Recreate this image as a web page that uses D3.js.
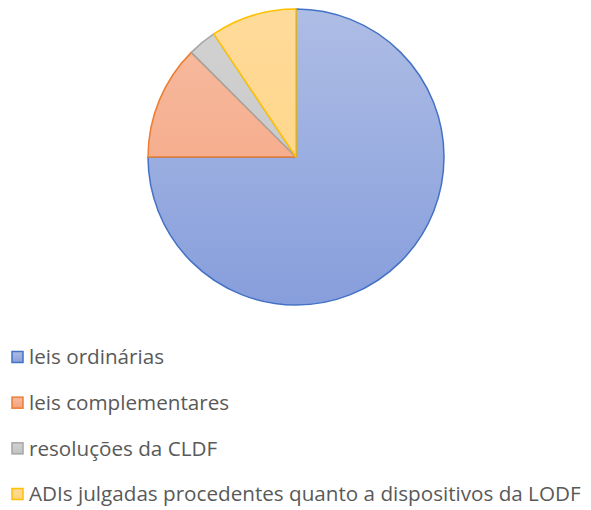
<!DOCTYPE html>
<html>
<head>
<meta charset="utf-8">
<script src="https://cdn.jsdelivr.net/npm/d3@7"></script>
<style>
  body { margin: 0; background: #fff; }
  svg { display: block; }
</style>
</head>
<body>
<div id="chart"></div>
<script>
// Chart data
const categories = ['leis ordinárias', 'leis complementares', 'resoluções da CLDF', 'ADIs julgadas procedentes quanto a dispositivos da LODF'];
const values = [24, 4, 1, 3];
const strokeColors = ['#4472c4', '#ed7d31', '#a5a5a5', '#ffc000'];
const topColors = ['#aebde5', '#f7bca2', '#d2d2d2', '#ffdb9a'];
const bottomColors = ['#879edc', '#f4a17b', '#c3c3c3', '#ffd37e'];

const width = 591;
const height = 510;
const cx = 296, cy = 157, radius = 148;

const svg = d3.select('#chart')
    .append('svg')
    .attr('width', width)
    .attr('height', height);

// Gradients, one per slice, spanning the pie's bounding box
const defs = svg.append('defs');
categories.forEach((c, i) => {
    const grad = defs.append('linearGradient')
        .attr('id', 'grad' + i)
        .attr('gradientUnits', 'userSpaceOnUse')
        .attr('x1', 0).attr('y1', cy - radius)
        .attr('x2', 0).attr('y2', cy + radius);
    grad.append('stop').attr('offset', '0%').attr('stop-color', topColors[i]);
    grad.append('stop').attr('offset', '100%').attr('stop-color', bottomColors[i]);
});

const pie = d3.pie().sort(null).value(d => d);
const arc = d3.arc().innerRadius(0).outerRadius(radius);

const g = svg.append('g').attr('transform', `translate(${cx},${cy})`);

// Gradient defined in absolute coords, so shift it into the group's space
defs.selectAll('linearGradient')
    .attr('gradientTransform', `translate(0,${-cy})`);

g.selectAll('path')
    .data(pie(values))
    .enter()
    .append('path')
    .attr('d', arc)
    .attr('fill', (d, i) => `url(#grad${i})`)
    .attr('stroke', (d, i) => strokeColors[i])
    .attr('stroke-width', 1.5)
    .attr('stroke-linejoin', 'round');

// Legend
const legendY = d3.scalePoint()
    .domain(categories)
    .range([357, 494]);

const legend = svg.append('g')
    .selectAll('g')
    .data(categories)
    .enter()
    .append('g')
    .attr('transform', d => `translate(0,${legendY(d)})`);

legend.append('rect')
    .attr('x', 12)
    .attr('y', -5.5)
    .attr('width', 11)
    .attr('height', 11)
    .attr('fill', (d, i) => `url(#lgrad${i})`)
    .attr('stroke', (d, i) => strokeColors[i])
    .attr('stroke-width', 1.5);

categories.forEach((c, i) => {
    const grad = defs.append('linearGradient')
        .attr('id', 'lgrad' + i)
        .attr('x1', 0).attr('y1', 0).attr('x2', 0).attr('y2', 1);
    grad.append('stop').attr('offset', '0%').attr('stop-color', topColors[i]);
    grad.append('stop').attr('offset', '100%').attr('stop-color', bottomColors[i]);
});

const labels = legend.append('text')
    .attr('x', 29)
    .attr('y', 0)
    .attr('dy', '0.35em')
    .attr('fill', '#595959')
    .style('font-family', '"Open Sans", "Noto Sans", sans-serif')
    .style('font-size', '18px')
    .text(d => d);

// Scale font so the longest label matches the original width
const longest = d3.max(labels.nodes(), n => n.getComputedTextLength());
const fontSize = 18 * 552 / longest;
labels.style('font-size', fontSize + 'px');
</script>
</body>
</html>
